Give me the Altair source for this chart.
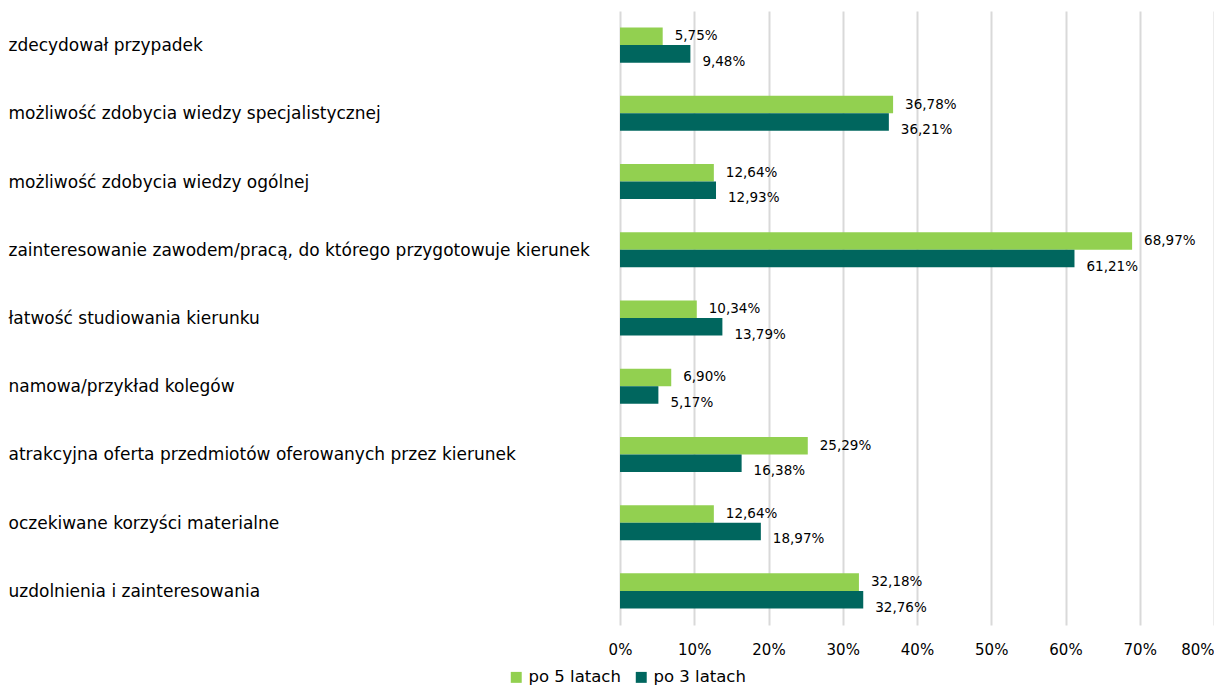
import altair as alt
import pandas as pd

categories = [
    "zdecydował przypadek",
    "możliwość zdobycia wiedzy specjalistycznej",
    "możliwość zdobycia wiedzy ogólnej",
    "zainteresowanie zawodem/pracą, do którego przygotowuje kierunek",
    "łatwość studiowania kierunku",
    "namowa/przykład kolegów",
    "atrakcyjna oferta przedmiotów oferowanych przez kierunek",
    "oczekiwane korzyści materialne",
    "uzdolnienia i zainteresowania",
]
po5 = [5.75, 36.78, 12.64, 68.97, 10.34, 6.90, 25.29, 12.64, 32.18]
po3 = [9.48, 36.21, 12.93, 61.21, 13.79, 5.17, 16.38, 18.97, 32.76]
series = ["po 5 latach", "po 3 latach"]
colors = ["#92D050", "#00665E"]
x_ticks = [0, 10, 20, 30, 40, 50, 60, 70, 80]

rows = []
for c, a, b in zip(categories, po5, po3):
    rows.append({"cat": c, "series": series[0], "value": a,
                 "label": f"{a:.2f}".replace(".", ",") + "%"})
    rows.append({"cat": c, "series": series[1], "value": b,
                 "label": f"{b:.2f}".replace(".", ",") + "%"})
df = pd.DataFrame(rows)

FONT = "DejaVu Sans"

y = alt.Y("cat:N", sort=categories, title=None,
          scale=alt.Scale(paddingInner=0.486, paddingOuter=0.243),
          axis=alt.Axis(labelAlign="left", labelPadding=612, ticks=False,
                        domain=False, labelFontSize=17, labelColor="#000000",
                        labelFont=FONT, labelLimit=700, labelOffset=1))
x = alt.X("value:Q", title=None,
          scale=alt.Scale(domain=[0, 80], nice=False),
          axis=alt.Axis(values=x_ticks, labelExpr="datum.value + '%'",
                        grid=True, gridColor="#D9D9D9", gridWidth=2,
                        domain=False, ticks=False, labelFontSize=15,
                        labelFlush=False,
                        labelAlign={"condition": {"test": "datum.value >= 80",
                                                  "value": "right"},
                                    "value": "center"},
                        labelFont=FONT, labelColor="#000000", labelPadding=17))
yoff = alt.YOffset("series:N", sort=series)
color = alt.Color("series:N", sort=series,
                  scale=alt.Scale(domain=series, range=colors),
                  legend=alt.Legend(title=None, orient="none", direction="horizontal",
                                    legendX=-112, legendY=658,
                                    symbolType="square", symbolSize=120,
                                    symbolStrokeWidth=0, labelOffset=4,
                                    labelFontSize=16.5, labelFont=FONT,
                                    labelColor="#000000", columnPadding=12))

bars = alt.Chart(df).mark_bar().encode(y=y, x=x, yOffset=yoff, color=color)

base_text = alt.Chart(df).encode(
    y=alt.Y("cat:N", sort=categories), x="value:Q", yOffset=yoff, text="label:N")
t5 = base_text.transform_filter(alt.datum.series == series[0]).mark_text(
    align="left", dx=12, dy=0, fontSize=13.5, font=FONT, color="#000000")
t3 = base_text.transform_filter(alt.datum.series == series[1]).mark_text(
    align="left", dx=12, dy=8, fontSize=13.5, font=FONT, color="#000000")

chart = alt.layer(bars, t5, t3).properties(
    width=594, height=614,
    padding={"left": 0, "top": 3, "right": 0, "bottom": 0},
).configure_view(stroke=None).configure_axis(labelFont=FONT)

chart.save("out.html", embed_options={"renderer": "svg", "actions": False})
